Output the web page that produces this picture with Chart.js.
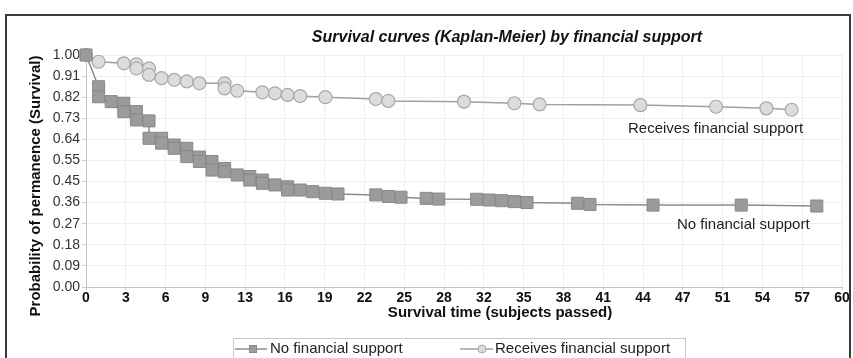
<!DOCTYPE html>
<html><head><meta charset="utf-8">
<script src="https://cdn.jsdelivr.net/npm/chart.js@4.4.1/dist/chart.umd.min.js"></script>
<style>html,body{margin:0;padding:0;background:#fff;}canvas{display:block;}</style>
</head><body>
<canvas id="c" width="853" height="358"></canvas>
<script>
const chartTitle = 'Survival curves (Kaplan-Meier) by financial support';
const xAxisTitle = 'Survival time (subjects passed)';
const yAxisTitle = 'Probability of permanence (Survival)';
const seriesNames = ['No financial support', 'Receives financial support'];
const xTickLabels = ['0','3','6','9','13','16','19','22','25','28','32','35','38','41','44','47','51','54','57','60'];
const yTickLabels = ['0.00','0.09','0.18','0.27','0.36','0.45','0.55','0.64','0.73','0.82','0.91','1.00'];

const noSupportTime = [0, 1, 1, 2, 3, 3, 4, 4, 5, 5, 6, 6, 7, 7, 8, 8, 9, 9, 10, 10, 11, 11, 12, 13, 13, 14, 14, 15, 16, 16, 17, 18, 19, 20, 23, 24, 25, 27, 28, 31, 32, 33, 34, 35, 39, 40, 45, 52, 58];
const noSupportSurv = [1.0, 0.863, 0.820, 0.799, 0.792, 0.756, 0.756, 0.720, 0.716, 0.641, 0.641, 0.620, 0.612, 0.598, 0.598, 0.562, 0.560, 0.541, 0.541, 0.504, 0.511, 0.497, 0.483, 0.476, 0.461, 0.461, 0.447, 0.440, 0.432, 0.418, 0.418, 0.411, 0.404, 0.401, 0.397, 0.390, 0.387, 0.382, 0.379, 0.378, 0.375, 0.372, 0.368, 0.364, 0.361, 0.356, 0.353, 0.353, 0.349];
const supportTime = [0, 1, 3, 4, 4, 5, 5, 6, 7, 8, 9, 11, 11, 12, 14, 15, 16, 17, 19, 23, 24, 30, 34, 36, 44, 50, 54, 56];
const supportSurv = [1.0, 0.971, 0.964, 0.960, 0.942, 0.942, 0.914, 0.900, 0.893, 0.886, 0.878, 0.878, 0.856, 0.846, 0.839, 0.835, 0.828, 0.823, 0.818, 0.810, 0.802, 0.799, 0.792, 0.787, 0.784, 0.777, 0.770, 0.764];

const FONT = '"Liberation Sans", Arial, sans-serif';
const toPts = (xs, ys) => xs.map((x, i) => ({x: x, y: ys[i]}));

const deco = {
  id: 'deco',
  beforeDraw(chart) {
    const c = chart.ctx;
    c.save(); c.fillStyle = '#fff'; c.fillRect(0, 0, chart.width, chart.height); c.restore();
  },
  afterDraw(chart) {
    const c = chart.ctx;
    c.save();
    c.strokeStyle = '#3a3a3a'; c.lineWidth = 2;
    c.strokeRect(6, 15, 844, 360);
    c.fillStyle = '#111';
    c.textAlign = 'center'; c.textBaseline = 'middle';
    c.font = 'italic bold 16px ' + FONT;
    c.fillText(chartTitle, 507, 38);
    c.font = 'bold 15px ' + FONT;
    c.fillText(xAxisTitle, 500, 313);
    c.save(); c.translate(36, 186); c.rotate(-Math.PI / 2); c.fillText(yAxisTitle, 0, 0); c.restore();
    c.fillStyle = '#222';
    c.font = '15px ' + FONT; c.textAlign = 'left';
    c.fillText(seriesNames[1], 628, 129);
    c.fillText(seriesNames[0], 677, 225);
    // legend
    c.strokeStyle = '#c8c8c8'; c.lineWidth = 1;
    c.strokeRect(233.5, 338.5, 452, 30);
    const ly = 349;
    c.strokeStyle = '#8c8c8c'; c.lineWidth = 1.5;
    c.beginPath(); c.moveTo(235, ly); c.lineTo(267, ly); c.stroke();
    c.fillStyle = '#9b9b9b'; c.strokeStyle = '#888'; c.lineWidth = 1;
    c.fillRect(249, ly - 4, 8, 8); c.strokeRect(249.5, ly - 3.5, 7, 7);
    c.strokeStyle = '#a0a0a0'; c.lineWidth = 1.5;
    c.beginPath(); c.moveTo(460, ly); c.lineTo(493, ly); c.stroke();
    c.fillStyle = '#dcdcdc'; c.strokeStyle = '#a8a8a8'; c.lineWidth = 1;
    c.beginPath(); c.arc(482, ly, 4, 0, Math.PI * 2); c.fill(); c.stroke();
    c.fillStyle = '#222'; c.font = '15px ' + FONT;
    c.fillText(seriesNames[0], 270, ly);
    c.fillText(seriesNames[1], 495, ly);
    c.restore();
  }
};

new Chart(document.getElementById('c'), {
  type: 'line',
  data: {
    datasets: [
      {
        label: seriesNames[0],
        data: toPts(noSupportTime, noSupportSurv),
        borderColor: '#8c8c8c', borderWidth: 1.5,
        pointStyle: 'rect', pointRadius: 8.5,
        pointBackgroundColor: '#9b9b9b', pointBorderColor: '#888888', pointBorderWidth: 1,
        tension: 0, clip: false
      },
      {
        label: seriesNames[1],
        data: toPts(supportTime, supportSurv),
        borderColor: '#a0a0a0', borderWidth: 1.5,
        pointStyle: 'circle', pointRadius: 6.5,
        pointBackgroundColor: '#dcdcdc', pointBorderColor: '#a8a8a8', pointBorderWidth: 1.2,
        tension: 0, clip: false
      }
    ]
  },
  options: {
    responsive: false, animation: false, devicePixelRatio: 1,
    layout: { padding: { left: 0, right: 11, top: 55, bottom: 51 } },
    plugins: { legend: { display: false }, title: { display: false }, tooltip: { enabled: false } },
    scales: {
      x: {
        type: 'linear', min: 0, max: 60,
        afterBuildTicks: s => { s.ticks = xTickLabels.map((l, i) => ({ value: i * 60 / (xTickLabels.length - 1) })); },
        afterFit: s => { s.height = 20; },
        ticks: { callback: (v, i) => xTickLabels[i], autoSkip: false, maxRotation: 0, padding: 0, color: '#111', font: { family: FONT, size: 14, weight: 'bold' } },
        grid: { color: '#efefef', tickColor: '#cccccc', tickLength: 3 },
        border: { color: '#c4c4c4' }
      },
      y: {
        type: 'linear', min: 0, max: 1,
        afterBuildTicks: s => { s.ticks = yTickLabels.map((l, i) => ({ value: i / (yTickLabels.length - 1) })); },
        afterFit: s => { s.width = 86; },
        ticks: { callback: (v, i) => yTickLabels[i], autoSkip: false, padding: 2, color: '#333', font: { family: FONT, size: 14 } },
        grid: { color: '#efefef', tickColor: '#cccccc', tickLength: 4 },
        border: { color: '#c4c4c4' }
      }
    }
  },
  plugins: [deco]
});
</script>
</body></html>
